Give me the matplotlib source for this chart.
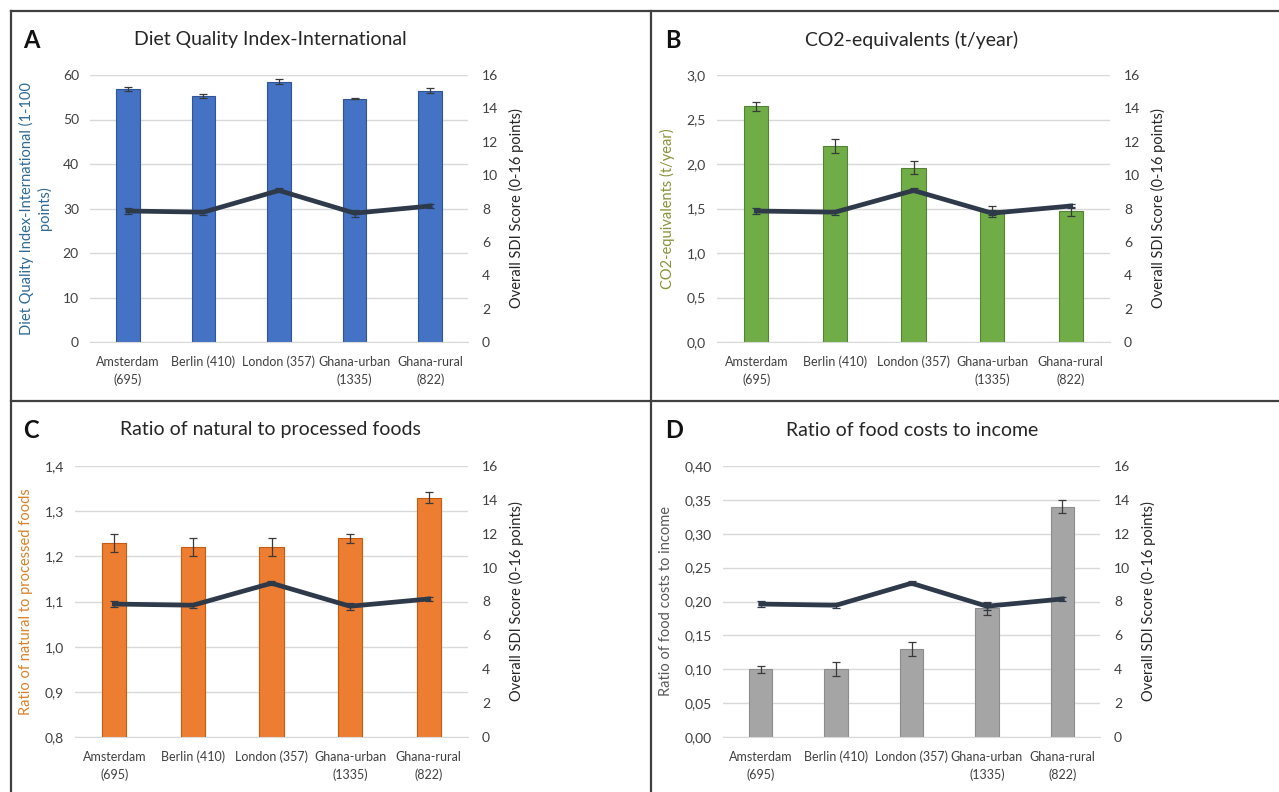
import matplotlib.pyplot as plt
import numpy as np
from matplotlib.lines import Line2D
from matplotlib.ticker import FuncFormatter

plt.rcParams['font.family'] = ['Lato', 'DejaVu Sans']

cities = ["Amsterdam\n(695)", "Berlin (410)", "London (357)", "Ghana-urban\n(1335)", "Ghana-rural\n(822)"]

# overall SDI score (right axis), same in every panel
sdi = [7.85, 7.78, 9.08, 7.72, 8.15]
sdi_err = [0.18, 0.15, 0.12, 0.2, 0.1]

dqi = [56.8, 55.3, 58.5, 54.7, 56.5]
dqi_err = [0.5, 0.5, 0.5, 0.2, 0.5]

co2 = [2.65, 2.2, 1.96, 1.48, 1.47]
co2_err = [0.05, 0.08, 0.07, 0.05, 0.05]

natural = [1.23, 1.22, 1.22, 1.24, 1.33]
natural_err = [0.02, 0.02, 0.02, 0.01, 0.012]

costs = [0.10, 0.10, 0.13, 0.19, 0.34]
costs_err = [0.005, 0.01, 0.01, 0.01, 0.01]

W, H = 1279, 792
fig = plt.figure(figsize=(W / 100, H / 100), dpi=100)


def px_axes(x0, y0, x1, y1):
    return fig.add_axes([x0 / W, 1 - y1 / H, (x1 - x0) / W, (y1 - y0) / H])


def comma(fmt):
    return FuncFormatter(lambda v, p: (fmt % v).replace(".", ","))


def panel(box, letter, lbox, title, tpos, vals, errs, ylim, step, fmt,
          color, edge, ylabel, ylabel_color):
    ax = px_axes(*box)
    x = np.arange(len(cities))
    ax.bar(x, vals, width=0.31, color=color, edgecolor=edge, linewidth=0.8, zorder=2)
    ax.errorbar(x, vals, yerr=errs, fmt="none", ecolor="#3a3a3a", elinewidth=0.9,
                capsize=3, capthick=0.9, zorder=3)
    ax.set_xlim(-0.5, 4.5)
    ax.set_ylim(*ylim)
    ax.set_yticks(np.arange(ylim[0], ylim[1] + step / 2, step))
    ax.yaxis.set_major_formatter(comma(fmt))
    ax.grid(axis="y", color="#d9d9d9", linewidth=1, zorder=0)
    ax.set_axisbelow(True)
    for s in ax.spines.values():
        s.set_visible(False)
    ax.spines["bottom"].set_visible(True)
    ax.spines["bottom"].set_color("#d9d9d9")
    ax.set_xticks(x)
    ax.set_xticklabels(cities, fontsize=9, color="#404040", linespacing=1.5)
    ax.tick_params(length=0, pad=8, labelsize=10, labelcolor="#404040")
    ax.tick_params(axis="x", pad=10, labelsize=9)
    ax.set_ylabel(ylabel, color=ylabel_color, fontsize=10.5, labelpad=8)

    ax2 = ax.twinx()
    ax2.set_ylim(0, 16)
    ax2.set_yticks(np.arange(0, 17, 2))
    ax2.errorbar(x, sdi, yerr=sdi_err, color="#2e3a4a", linewidth=3.4,
                 ecolor="#2e3a4a", elinewidth=0.9, capsize=3, capthick=0.9, zorder=4)
    for s in ax2.spines.values():
        s.set_visible(False)
    ax2.tick_params(length=0, pad=10, labelsize=10, labelcolor="#404040")
    ax2.set_ylabel("Overall SDI Score (0-16 points)", fontsize=10.5, color="#262626", labelpad=8)

    fig.text(lbox[0] / W, 1 - lbox[1] / H, letter, fontsize=17, fontweight="bold",
             ha="left", va="center", color="#111111")
    fig.text(tpos[0] / W, 1 - tpos[1] / H, title, fontsize=14, ha="center",
             va="center", color="#262626")


panel((90, 75, 468, 342), "A", (23, 41), "Diet Quality Index-International", (270, 40),
      dqi, dqi_err, (0, 60), 10, "%d", "#4472c4", "#2f5597",
      "Diet Quality Index-International (1-100\npoints)", "#2e6a95")
panel((717, 75, 1110, 342), "B", (665, 41), "CO2-equivalents (t/year)", (912, 40),
      co2, co2_err, (0, 3.0), 0.5, "%.1f", "#70ad47", "#548235",
      "CO2-equivalents (t/year)", "#8a9238")
panel((75, 466, 468, 737), "C", (23, 431), "Ratio of natural to processed foods", (270, 430),
      natural, natural_err, (0.8, 1.4), 0.1, "%.1f", "#ed7d31", "#c55a11",
      "Ratio of natural to processed foods", "#d9822b")
panel((723, 466, 1100, 737), "D", (665, 431), "Ratio of food costs to income", (912, 430),
      costs, costs_err, (0, 0.40), 0.05, "%.2f", "#a5a5a5", "#8c8c8c",
      "Ratio of food costs to income", "#595959")

# panel frame lines
frame = dict(color="#404040", linewidth=1.6, transform=fig.transFigure)
fig.add_artist(Line2D([11 / W, 1], [1 - 11 / H, 1 - 11 / H], **frame))
fig.add_artist(Line2D([11 / W, 11 / W], [0, 1 - 11 / H], **frame))
fig.add_artist(Line2D([651 / W, 651 / W], [0, 1 - 11 / H], **frame))
fig.add_artist(Line2D([11 / W, 1], [1 - 401 / H, 1 - 401 / H], **frame))

fig.savefig("out.png", dpi=100)
